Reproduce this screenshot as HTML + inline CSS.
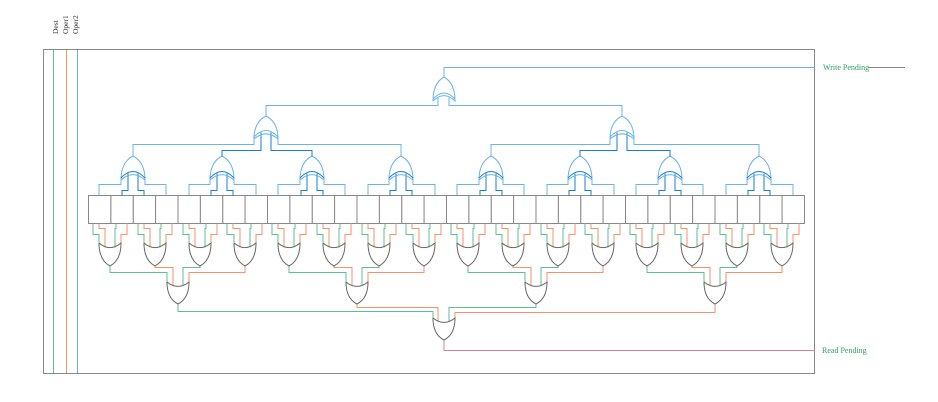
<!DOCTYPE html>
<html><head><meta charset="utf-8">
<style>
html,body{margin:0;padding:0;background:#fff;}
svg{display:block;}
text{font-family:"Liberation Serif",serif;}
</style></head>
<body>
<svg id="s" width="938" height="402" viewBox="0 0 938 402" xmlns="http://www.w3.org/2000/svg">
<text transform="translate(58,34) rotate(-90)" font-size="7.5" fill="#333">Dest</text>
<text transform="translate(68,34) rotate(-90)" font-size="7.5" fill="#333">Oper1</text>
<text transform="translate(78,34) rotate(-90)" font-size="7.5" fill="#333">Oper2</text>
<rect x="43.5" y="49.5" width="771" height="324" fill="none" stroke="#888" stroke-width="1"/>
<line x1="53.5" y1="50" x2="53.5" y2="373" stroke="#5fbf8f"/>
<line x1="66.5" y1="50" x2="66.5" y2="373" stroke="#f4926a"/>
<line x1="77.5" y1="50" x2="77.5" y2="373" stroke="#6ab4e8"/>
<text x="823" y="70" font-size="8" fill="#2aa060">Write Pending</text>
<line x1="868" y1="67.5" x2="905" y2="67.5" stroke="#888"/>
<text x="822" y="353" font-size="8" fill="#2aa060">Read Pending</text>
<g id="g"></g>
</svg>
<script>
var g=document.getElementById('g'),out='';
var LB='#6ab4e8',DB='#1a7fd0',GR='#5fbf8f',OR='#f4926a',GT='#666';
function pl(pts,c){out+='<polyline points="'+pts.map(function(p){return p[0]+','+(p[1]+0.5)}).join(' ')+'" fill="none" stroke="'+c+'" stroke-width="1"/>';}
function up(cx,ty,by,w,c){var h=by-ty;out+='<path d="M'+(cx-w)+','+by+' Q'+(cx-w)+','+(ty+h*0.25)+' '+cx+','+ty+' Q'+(cx+w)+','+(ty+h*0.25)+' '+(cx+w)+','+by+' Q'+cx+','+(by-h*0.45)+' '+(cx-w)+','+by+'" fill="none" stroke="'+c+'"/>';}
function dn(cx,ty,by,w,c){var h=by-ty;out+='<path d="M'+(cx-w)+','+ty+' Q'+(cx-w)+','+(by-h*0.25)+' '+cx+','+by+' Q'+(cx+w)+','+(by-h*0.25)+' '+(cx+w)+','+ty+' Q'+cx+','+(ty+h*0.4)+' '+(cx-w)+','+ty+'" fill="none" stroke="'+c+'"/>';}
var x0=88,bw=22.375;
for(var i=0;i<32;i++){var x=x0+bw*i;out+='<rect x="'+(x+0.5).toFixed(1)+'" y="195.5" width="'+bw.toFixed(2)+'" height="28" fill="#fff" stroke="#888"/>';}
var l1=[];
for(var k=0;k<8;k++){
 var c=Math.round(x0+bw*4*k+bw*2);l1.push(c);
 var b=[0,1,2,3].map(function(i){return Math.round(x0+bw*(4*k+i)+bw/2);});
 pl([[b[0],195],[b[0],184],[c-12,184],[c-12,176]],LB);
 pl([[b[3],195],[b[3],184],[c+12,184],[c+12,176]],LB);
 pl([[b[1],195],[b[1],190],[c-5,190],[c-5,173]],DB);
 pl([[b[2],195],[b[2],190],[c+5,190],[c+5,173]],DB);
 up(c,156,180,12,LB);
 out+='<path d="M'+(c-12)+',178 Q'+c+',165 '+(c+12)+',178" fill="none" stroke="'+DB+'"/>';
}
var l2=[266,622];
for(var q=0;q<2;q++){
 var C=l2[q],cs=l1.slice(q*4,q*4+4);
 pl([[cs[0],156],[cs[0],144],[C-12,144],[C-12,135]],LB);
 pl([[cs[3],156],[cs[3],144],[C+12,144],[C+12,135]],LB);
 pl([[cs[1],156],[cs[1],150],[C-5,150],[C-5,132]],DB);
 pl([[cs[2],156],[cs[2],150],[C+5,150],[C+5,132]],DB);
 up(C,116,139,12,LB);
 out+='<path d="M'+(C-12)+',137 Q'+C+',124 '+(C+12)+',137" fill="none" stroke="'+LB+'"/>';
}
pl([[266,116],[266,105],[438,105],[438,97]],LB);
pl([[622,116],[622,105],[449,105],[449,97]],LB);
up(444,77,101,11,LB);
out+='<path d="M433,99 Q444,87 455,99" fill="none" stroke="'+LB+'"/>';
pl([[444,77],[444,67],[815,67]],LB);
var r1=[];
for(var p=0;p<16;p++){
 var c=Math.round(x0+bw*2*p+bw);r1.push(c);
 var A=x0+bw*2*p,B=A+bw;
 pl([[Math.round(A+5),223],[Math.round(A+5),234],[c-11,234],[c-11,245]],GR);
 pl([[Math.round(A+11),223],[Math.round(A+11),228],[c-5,228],[c-5,247]],OR);
 pl([[Math.round(B+6),223],[Math.round(B+6),228],[c+5,228],[c+5,247]],GR);
 pl([[Math.round(B+17),223],[Math.round(B+17),234],[c+11,234],[c+11,245]],OR);
 dn(c,243,266,11,GT);
}
var r2=[];
for(var q=0;q<4;q++){
 var cs=r1.slice(q*4,q*4+4),C=Math.round((cs[1]+cs[2])/2);r2.push(C);
 pl([[cs[0],266],[cs[0],272],[C-11,272],[C-11,284]],GR);
 pl([[cs[1],266],[cs[1],267],[C-5,267],[C-5,285]],OR);
 pl([[cs[2],266],[cs[2],267],[C+5,267],[C+5,285]],GR);
 pl([[cs[3],266],[cs[3],272],[C+11,272],[C+11,284]],OR);
 dn(C,282,304,11,GT);
}
pl([[r2[0],304],[r2[0],311],[433,311],[433,320]],GR);
pl([[r2[1],304],[r2[1],307],[438,307],[438,321]],OR);
pl([[r2[2],304],[r2[2],307],[449,307],[449,321]],GR);
pl([[r2[3],304],[r2[3],312],[455,312],[455,320]],OR);
dn(444,318,340,11,GT);
pl([[444,340],[444,350],[815,350]],'#d080a0');
g.innerHTML=out;
</script>
</body></html>
